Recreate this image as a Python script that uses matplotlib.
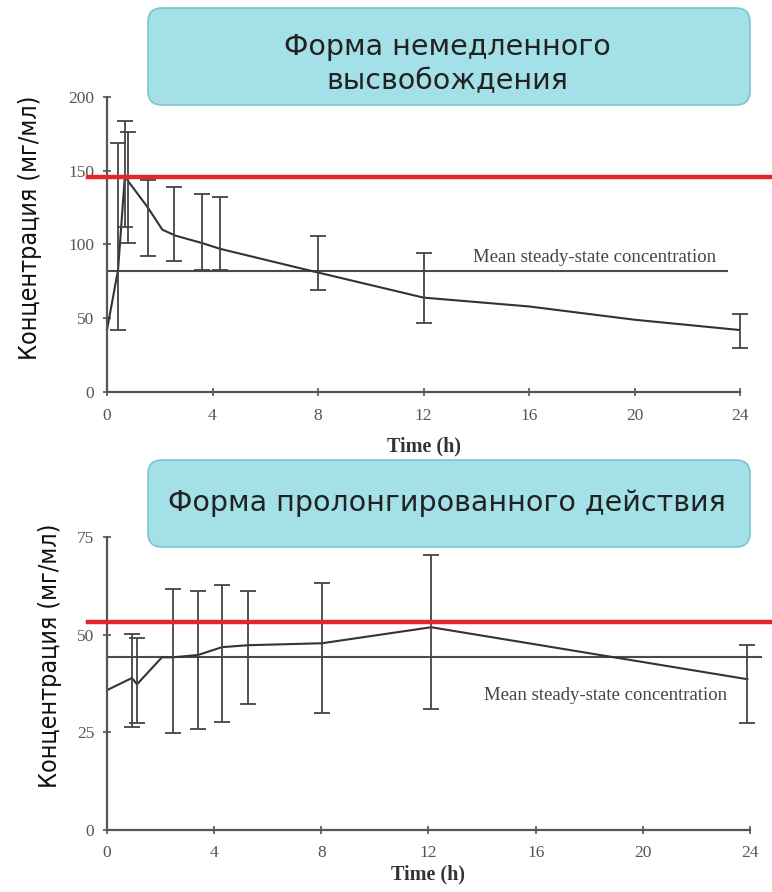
import numpy as np
import matplotlib
matplotlib.use("Agg")
import matplotlib.pyplot as plt
from matplotlib.patches import FancyBboxPatch
from matplotlib.transforms import IdentityTransform

# Immediate release: concentration curve and error bars
ir_curve_t = [0, 0.42, 0.68, 0.8, 1.55, 2.1, 2.6, 3.6, 4.3, 8, 12, 16, 20, 24]
ir_curve_c = [42, 83, 147, 143, 125, 110, 106, 101, 97, 81, 64, 58, 49, 42]
ir_bar_t = [0.42, 0.68, 0.8, 1.55, 2.54, 3.6, 4.3, 8, 12, 24]
ir_bar_lo = [42, 112, 101, 92, 89, 83, 83, 69, 47, 30]
ir_bar_hi = [169, 184, 176, 144, 139, 134, 132, 106, 94, 53]
ir_mean_ss = 82
ir_red = 146

# Prolonged release
sr_curve_t = [0, 0.93, 1.12, 2.05, 2.46, 3.4, 4.29, 5.26, 8.02, 12.1, 23.9]
sr_curve_c = [35.8, 38.9, 37.3, 44.2, 44.2, 44.8, 46.8, 47.3, 47.8, 51.9, 38.6]
sr_bar_t = [0.93, 1.12, 2.46, 3.4, 4.29, 5.26, 8.02, 12.1, 23.9]
sr_bar_lo = [26.4, 27.4, 24.8, 25.8, 27.6, 32.2, 29.9, 30.9, 27.4]
sr_bar_hi = [50.1, 49.1, 61.6, 61.1, 62.7, 61.1, 63.2, 70.3, 47.3]
sr_mean_ss = 44.2
sr_red = 53.2

x_ticks = [0, 4, 8, 12, 16, 20, 24]
ylabel = "Концентрация (мг/мл)"
xlabel = "Time (h)"
ss_label = "Mean steady-state concentration"
title_ir = "Форма немедленного\nвысвобождения"
title_sr = "Форма пролонгированного действия"

W, H = 772, 892
fig = plt.figure(figsize=(W / 100, H / 100), dpi=100)
fig.patch.set_facecolor("white")

grey = "#4a4a4a"
serif = ["Liberation Serif", "DejaVu Serif"]


def style_axes(ax, ymax, yticks, tpad, lpad):
    ax.set_xlim(0, 24)
    ax.set_ylim(0, ymax)
    for s in ["top", "right"]:
        ax.spines[s].set_visible(False)
    for s in ["left", "bottom"]:
        ax.spines[s].set_color("#555555")
        ax.spines[s].set_linewidth(1.6)
    ax.set_xticks(x_ticks)
    ax.set_yticks(yticks)
    ax.tick_params(direction="inout", length=6, width=1.2, color="#555555",
                   labelsize=12.5, labelcolor="#555555")
    ax.tick_params(axis="x", pad=tpad)
    ax.tick_params(axis="y", pad=6)
    for lab in ax.get_xticklabels() + ax.get_yticklabels():
        lab.set_fontfamily(serif)
    ax.set_xlabel(xlabel, fontsize=14.5, family=serif, color="#333333",
                  fontweight="bold", labelpad=lpad)
    ax.set_ylabel(ylabel, fontsize=18, family="DejaVu Sans",
                  fontstretch="condensed", color="#111111")


def add_box(x0, y0, x1, y1):
    # pixel coordinates, origin at top-left of the image
    box = FancyBboxPatch((x0, H - y1), x1 - x0, y1 - y0,
                         boxstyle="round,pad=0,rounding_size=14",
                         transform=IdentityTransform(),
                         facecolor="#a3e0e7", edgecolor="#7cc4cc", linewidth=1.2)
    fig.patches.append(box)


def draw_bars(ax, t, lo, hi):
    lo = np.array(lo)
    hi = np.array(hi)
    mid = (lo + hi) / 2
    ax.errorbar(t, mid, yerr=[mid - lo, hi - mid], fmt="none",
                ecolor="#444444", elinewidth=1.3, capsize=5.5, capthick=1.3,
                clip_on=False)


# ---- top panel
ax1 = fig.add_axes([107 / W, 1 - 392 / H, 633 / W, 295 / H])
style_axes(ax1, 200, [0, 50, 100, 150, 200], 8.5, 9)
ax1.plot([-0.72, 25.5], [ir_red, ir_red], color="#e3262b", lw=3.2,
         clip_on=False, zorder=5)
ax1.plot([0, 23.5], [ir_mean_ss, ir_mean_ss], color=grey, lw=1.5, clip_on=False)
ax1.plot(ir_curve_t, ir_curve_c, color="#333333", lw=1.5)
draw_bars(ax1, ir_bar_t, ir_bar_lo, ir_bar_hi)
ax1.text(18.5, 91, ss_label, family=serif, fontsize=13.5, color="#444444",
         ha="center", va="center")
ax1.yaxis.set_label_coords(-0.103, 0.556)

# ---- bottom panel
ax2 = fig.add_axes([107 / W, 1 - 830 / H, 643 / W, 293 / H])
style_axes(ax2, 75, [0, 25, 50, 75], 7.5, 2.5)
ax2.plot([-0.7, 25.5], [sr_red, sr_red], color="#e3262b", lw=3.2,
         clip_on=False, zorder=5)
ax2.plot([0, 24.4], [sr_mean_ss, sr_mean_ss], color=grey, lw=1.5, clip_on=False)
ax2.plot(sr_curve_t, sr_curve_c, color="#333333", lw=1.5)
draw_bars(ax2, sr_bar_t, sr_bar_lo, sr_bar_hi)
ax2.text(18.6, 34.5, ss_label, family=serif, fontsize=13.5, color="#444444",
         ha="center", va="center")
ax2.yaxis.set_label_coords(-0.07, 0.594)

# ---- title boxes
add_box(148, 8, 750, 105)
fig.text(447 / W, 1 - 64 / H, title_ir, ha="center", va="center",
         fontsize=20.5, color="#222222", linespacing=1.3, family="DejaVu Sans")
add_box(148, 460, 750, 547)
fig.text(447 / W, 1 - 503 / H, title_sr, ha="center", va="center",
         fontsize=20.5, color="#222222", family="DejaVu Sans")

fig.savefig("out.png", dpi=100)
